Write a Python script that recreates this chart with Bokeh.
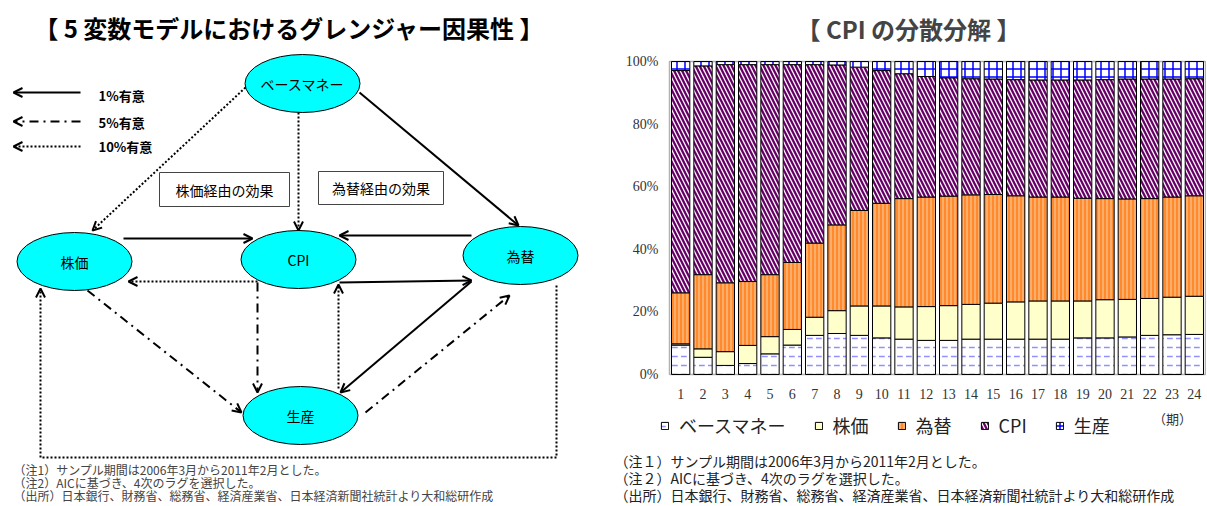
from bokeh.plotting import figure
from bokeh.layouts import row
from bokeh.models import (Range1d, Arrow, OpenHead, Label, Legend, LegendItem,
                          ColumnDataSource, FixedTicker, LinearAxis, BoxAnnotation)
from bokeh.core.properties import value
from bokeh.embed import file_html
from bokeh.resources import INLINE

# ---------------- data ----------------
periods = ["1", "2", "3", "4", "5", "6", "7", "8", "9", "10", "11", "12",
           "13", "14", "15", "16", "17", "18", "19", "20", "21", "22", "23", "24"]
base_money = [9.4, 5.5, 2.9, 3.5, 6.6, 9.4, 12.5, 13.1, 12.5, 11.7, 11.3, 10.9,
              10.9, 11.3, 11.3, 11.3, 11.3, 11.3, 11.7, 11.7, 12.0, 12.5, 12.7, 12.8]
stock = [0.4, 2.7, 4.4, 5.8, 5.5, 5.0, 5.8, 7.3, 9.4, 10.2, 10.3, 10.8,
         11.1, 11.1, 11.5, 11.9, 12.2, 12.2, 11.8, 12.2, 12.0, 11.8, 12.0, 12.2]
fx = [16.3, 23.7, 22.0, 20.4, 19.8, 21.4, 23.7, 27.4, 30.5, 32.8, 34.6, 35.0,
      35.0, 35.0, 34.7, 33.9, 33.2, 33.2, 32.8, 32.3, 32.1, 31.9, 32.0, 32.1]
cpi = [71.0, 66.7, 69.7, 69.3, 67.1, 63.2, 57.0, 51.1, 45.8, 42.4, 39.9, 38.5,
       37.8, 37.1, 36.9, 37.1, 37.4, 37.4, 37.8, 38.0, 38.3, 38.2, 37.7, 37.4]
production = [2.9, 1.4, 1.0, 1.0, 1.0, 1.0, 1.0, 1.1, 1.8, 2.9, 3.9, 4.8,
              5.2, 5.5, 5.6, 5.8, 5.9, 5.9, 5.9, 5.8, 5.6, 5.6, 5.6, 5.5]
series_names = ["ベースマネー", "株価", "為替", "CPI", "生産"]
y_ticks = [0, 20, 40, 60, 80, 100]
y_tick_labels = ["0%", "20%", "40%", "60%", "80%", "100%"]

nodes = ["ベースマネー", "株価", "CPI", "為替", "生産"]
sig_labels = ["1%有意", "5%有意", "10%有意"]
effect_boxes = ["株価経由の効果", "為替経由の効果"]
left_title = "【 5 変数モデルにおけるグレンジャー因果性 】"
right_title = "【 CPI の分散分解 】"
notes_left = ["（注1）サンプル期間は2006年3月から2011年2月とした。",
              "（注2）AICに基づき、4次のラグを選択した。",
              "（出所）日本銀行、財務省、総務省、経済産業省、日本経済新聞社統計より大和総研作成"]
notes_right = ["（注１）サンプル期間は2006年3月から2011年2月とした。",
               "（注２）AICに基づき、4次のラグを選択した。",
               "（出所）日本銀行、財務省、総務省、経済産業省、日本経済新聞社統計より大和総研作成"]

JP = "Noto Sans CJK JP"
SERIF = "Liberation Serif"
PAGE_W, PAGE_H = 1206, 505
LEFT_W = 600

# ---------------- left: diagram (page-pixel coordinates) ----------------
L = figure(width=LEFT_W, height=PAGE_H, x_range=Range1d(0, LEFT_W),
           y_range=Range1d(PAGE_H, 0),
           output_backend="svg", toolbar_location=None, min_border=0,
           x_axis_type=None, y_axis_type=None, outline_line_color=None)
L.grid.visible = False

node_pos = {"ベースマネー": (302, 83), "株価": (74, 261), "CPI": (298, 259),
            "為替": (520, 255), "生産": (300, 415)}
nx = [node_pos[n][0] for n in nodes]
ny = [node_pos[n][1] for n in nodes]
L.ellipse(x=nx, y=ny, width=115, height=58, fill_color="#00FFFF",
          line_color="black", line_width=1)
L.text(x=nx, y=ny, text=nodes, text_font=value(JP), text_font_size="14px",
       text_align="center", text_baseline="middle", text_color="black")

L.quad(left=[159, 318], right=[289, 443], top=[172, 171], bottom=[206, 204],
       fill_color="white", line_color="#444444", line_width=1)
L.text(x=[224, 380.5], y=[189, 187.5], text=effect_boxes, text_font=value(JP),
       text_font_size="14px", text_align="center", text_baseline="middle")

styles = {"solid": "solid", "dash": "9 5 2 5", "dot": "2 2"}

def arrow(x0, y0, x1, y1, style):
    L.add_layout(Arrow(x_start=x0, y_start=y0, x_end=x1, y_end=y1,
                       line_width=2, line_color="black", line_dash=styles[style],
                       end=OpenHead(size=9, line_width=2, line_color="black")))

for (yy, st) in [(92, "solid"), (121, "dash"), (146, "dot")]:
    arrow(80, yy, 13, yy, st)
L.text(x=[98, 98, 98], y=[95, 122, 146], text=sig_labels, text_font=value(JP),
       text_font_style="bold", text_font_size="13px", text_align="left",
       text_baseline="middle")

arrow(359, 92, 518, 225, "solid")      # BM -> FX
arrow(123, 238, 252, 238, "solid")     # Stock -> CPI
arrow(471, 235, 339, 235, "solid")     # FX -> CPI
arrow(339, 282, 471, 280, "solid")     # CPI -> FX
arrow(471, 281, 340, 392, "solid")     # FX -> Prod
arrow(245, 87, 92, 230, "dot")         # BM -> Stock
arrow(298, 112, 298, 230, "dot")       # BM -> CPI
arrow(257, 281, 128, 281, "dot")       # CPI -> Stock
arrow(338, 388, 338, 284, "dot")       # Prod -> CPI
arrow(257, 282, 257, 392, "dash")      # CPI -> Prod
arrow(87, 290, 241, 412, "dash")       # Stock -> Prod
arrow(365, 412, 509, 295, "dash")      # Prod -> FX
L.line(x=[556, 556, 40], y=[285, 457, 457], line_width=2, line_dash="2 2",
       line_color="black")
arrow(40, 457, 40, 288, "dot")         # FX -> Stock

L.text(x=[289], y=[27], text=[left_title], text_font=value(JP), text_font_style="bold",
       text_font_size="24px", text_align="center", text_baseline="middle")
L.text(x=[13, 13, 13], y=[469, 482, 495], text=notes_left, text_font=value(JP),
       text_font_size="12px", text_align="left", text_baseline="middle",
       text_color="#444444")

# ---------------- right: stacked bars ----------------
# frame fills the whole figure; ranges chosen so the plot box lands at
# page x 669..1205 and y 61..374
CX0, CX1, CY0, CY1 = LEFT_W, PAGE_W, 0, PAGE_H
FL, FR, FT, FB = 669, 1205, 61, 374
ux = 24.0 / (FR - FL)
uy = 100.0 / (FB - FT)
R = figure(width=CX1 - CX0, height=PAGE_H,
           x_range=Range1d(0.5 - (FL - CX0) * ux, 24.5 + (CX1 - FR) * ux),
           y_range=Range1d(0 - (CY1 - FB) * uy, 100 + (FT - CY0) * uy),
           output_backend="svg", toolbar_location=None, min_border=0,
           x_axis_type=None, y_axis_type=None, outline_line_color=None)
R.grid.visible = False

def px_x(px):
    return 0.5 + (px - FL) * ux

def px_y(py):
    return (FB - py) * uy

xs = [i + 1 for i in range(len(periods))]
src = ColumnDataSource(dict(x=xs, bm=base_money, st=stock, fx=fx, cpi=cpi, pr=production))
keys = ["bm", "st", "fx", "cpi", "pr"]
rs = R.vbar_stack(keys, x="x", width=0.82, source=src,
                  fill_color=["white", "#FFFFCC", "#FF8A2E", "white", "white"],
                  line_color="black", line_width=1,
                  hatch_pattern=["horizontal_dash", " ", "vertical_line",
                                 "left_diagonal_line", "cross"],
                  hatch_color=["#9090FF", "#FFFFCC", "#FFD2A6", "#660066", "#0000FF"],
                  hatch_scale=[9, 6, 4, 8, 8],
                  hatch_weight=[1.5, 1, 1, 2.3, 1.5])

R.add_layout(BoxAnnotation(left=0.5, right=24.5, bottom=0, top=100, fill_alpha=0,
                           line_color="black", line_width=1.5))

yaxis = LinearAxis(fixed_location=0.5, ticker=FixedTicker(ticks=y_ticks),
                   major_label_overrides=dict(zip(y_ticks, y_tick_labels)))
xaxis = LinearAxis(fixed_location=0, ticker=FixedTicker(ticks=xs),
                   major_label_overrides=dict(zip(xs, periods)))
for ax in (xaxis, yaxis):
    ax.major_tick_in = 0
    ax.major_tick_out = 0
    ax.minor_tick_in = 0
    ax.minor_tick_out = 0
    ax.axis_line_color = None
    ax.major_label_text_font = SERIF
    ax.major_label_text_color = "#333333"
yaxis.major_label_text_font_size = "14px"
yaxis.major_label_standoff = 11
xaxis.major_label_text_font_size = "14px"
xaxis.major_label_standoff = 14
R.add_layout(yaxis, "left")
R.add_layout(xaxis, "below")

legend = Legend(items=[LegendItem(label=n, renderers=[r]) for n, r in zip(series_names, rs)],
                location=(56, 63), orientation="horizontal", spacing=28, padding=4,
                label_standoff=10, glyph_width=9, glyph_height=9,
                label_text_font=JP, label_text_font_size="18px",
                label_text_color="#222222",
                border_line_alpha=0, background_fill_alpha=0)
R.add_layout(legend, "center")

R.add_layout(Label(x=px_x(908), y=px_y(28), text=right_title, text_align="center",
                   text_baseline="middle", text_font=JP, text_font_style="bold",
                   text_font_size="24px"))
R.add_layout(Label(x=px_x(1172), y=px_y(418), text="（期）", text_align="center",
                   text_baseline="middle", text_font=JP, text_font_size="13px",
                   text_color="#333333"))
for i, t in enumerate(notes_right):
    R.add_layout(Label(x=px_x(614), y=px_y(460 + 17 * i), text=t, text_align="left",
                       text_baseline="middle", text_font=JP, text_font_size="14px",
                       text_color="#222222"))

page = row(L, R)
open("out.html", "w").write(file_html(page, INLINE))
